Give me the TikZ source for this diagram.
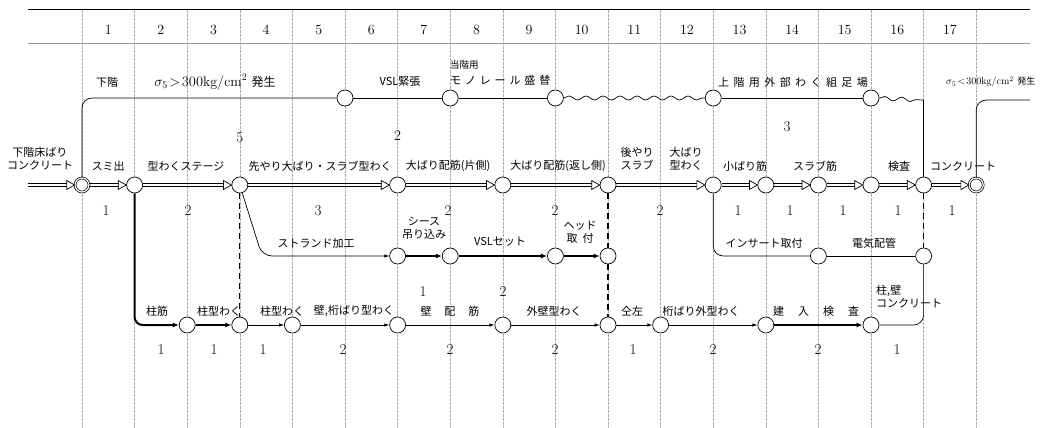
\documentclass[tikz,border=0pt]{standalone}
\usepackage{fontspec}
\newfontfamily\jp{Noto Sans CJK JP}
\usetikzlibrary{arrows.meta,decorations.pathmorphing,decorations.markings}
\tikzset{
  gridline/.style={gray!65, line width=0.45pt, dash pattern=on 3pt off 1pt},
  ev/.style={circle, draw, fill=white, minimum size=16pt, inner sep=0pt, line width=0.7pt},
  evd/.style={ev, double, double distance=1.2pt, minimum size=14pt},
  mainarr/.style={draw=none, line width=0.6pt,
    postaction={draw=black, line width=0.6pt, transform canvas={yshift=1.3pt}, shorten >=7.5pt},
    postaction={draw=black, line width=0.6pt, transform canvas={yshift=-1.3pt}, shorten >=7.5pt},
    postaction={decorate, decoration={markings, mark=at position 1 with
      {\filldraw[fill=white, draw=black, line width=0.7pt, line join=miter] (0pt,0pt) -- (-8pt,4.5pt) -- (-8pt,-4.5pt) -- cycle;}}}},
  thinline/.style={line width=0.7pt},
  thinarr/.style={line width=0.7pt, -{Latex[length=5pt,width=3.5pt]}},
  thickarr/.style={line width=2pt, -{Latex[length=6pt,width=5pt]}},
  dummy/.style={line width=1.2pt, dash pattern=on 6pt off 4pt},
  wave/.style={decorate, decoration={snake, segment length=17pt, amplitude=2pt}, line width=0.7pt},
  lab/.style={font=\jp\fontsize{11}{13}\selectfont, inner sep=0pt, align=center},
  num/.style={font=\fontsize{15}{15}\selectfont, inner sep=0pt},
  hnum/.style={font=\fontsize{14}{14}\selectfont, inner sep=0pt}
}
\begin{document}
\begin{tikzpicture}[x=1pt,y=-1pt]
\useasboundingbox (0,0) rectangle (1062,428);
% grid
\draw[line width=1pt] (28,10) -- (1030,10);
\draw[line width=0.5pt, gray!80] (28,43) -- (1030,43);
\foreach \k in {0,...,17} \draw[gridline] ({82+52.6*\k},10) -- ({82+52.6*\k},428);
\foreach \k in {1,...,17} \node[hnum] (h\k) at ({82+52.6*(\k-0.5)},30) {\k};
% top row
\node[ev] (T5) at (345,98) {};
\node[ev] (T7) at (450.2,98) {};
\node[ev] (T9) at (555.4,98) {};
\node[ev] (T12) at (713.2,98) {};
\node[ev] (T15) at (871,98) {};
\coordinate (C16) at (923.6,100);
\coordinate (OUT) at (1030,100);
\coordinate (IN) at (28,185);
% main row
\node[evd] (M0) at (82,185) {};
\node[ev] (M1) at (134.6,185) {};
\node[ev] (M3) at (239.8,185) {};
\node[ev] (M6) at (397.6,185) {};
\node[ev] (M8) at (502.8,185) {};
\node[ev] (M10) at (608,185) {};
\node[ev] (M12) at (713.2,185) {};
\node[ev] (M13) at (765.8,185) {};
\node[ev] (M14) at (818.4,185) {};
\node[ev] (M15) at (871,185) {};
\node[ev] (M16) at (923.6,185) {};
\node[evd] (M17) at (976.2,185) {};
% row 3
\node[ev] (R6) at (397.6,256) {};
\node[ev] (R7) at (450.2,256) {};
\node[ev] (R9) at (555.4,256) {};
\node[ev] (R10) at (608,256) {};
\node[ev] (R14) at (818.4,256) {};
\node[ev] (R16) at (923.6,256) {};
% bottom row
\node[ev] (B2) at (187.2,325) {};
\node[ev] (B3) at (239.8,325) {};
\node[ev] (B4) at (292.4,325) {};
\node[ev] (B6) at (397.6,325) {};
\node[ev] (B8) at (502.8,325) {};
\node[ev] (B10) at (608,325) {};
\node[ev] (B11) at (660.6,325) {};
\node[ev] (B13) at (765.8,325) {};
\node[ev] (B15) at (871,325) {};
% top connectors
\draw[thinline, rounded corners=10pt] (M0) |- (T5);
\draw[thinline] (T5) -- (T7);
\draw[thinline] (T7) -- (T9);
\draw[wave] (T9) -- (T12);
\draw[thinline] (T12) -- (T15);
\draw[wave] (T15) -- (C16);
\draw[thinline] (C16) -- (M16);
\draw[thinline, rounded corners=10pt] (M17) |- (OUT);
% main connectors
\draw[mainarr] (IN) -- (M0);
\draw[mainarr] (M0) -- (M1);
\draw[mainarr] (M1) -- (M3);
\draw[mainarr] (M3) -- (M6);
\draw[mainarr] (M6) -- (M8);
\draw[mainarr] (M8) -- (M10);
\draw[mainarr] (M10) -- (M12);
\draw[mainarr] (M12) -- (M13);
\draw[mainarr] (M13) -- (M14);
\draw[mainarr] (M14) -- (M15);
\draw[mainarr] (M15) -- (M16);
\draw[mainarr] (M16) -- (M17);
% row 3 connectors
\draw[thinarr, rounded corners=10pt] (M3) -- (262,256) -- (R6);
\draw[thickarr] (R6) -- (R7);
\draw[thickarr] (R7) -- (R9);
\draw[thickarr] (R9) -- (R10);
\draw[thinline, rounded corners=10pt] (M12) |- (R14);
\draw[thinline] (R14) -- (R16);
% bottom connectors
\draw[thickarr, rounded corners=8pt] (M1) |- (B2);
\draw[thickarr] (B2) -- (B3);
\draw[thinarr] (B3) -- (B4);
\draw[thinarr] (B4) -- (B6);
\draw[thinarr] (B6) -- (B8);
\draw[thinarr] (B8) -- (B10);
\draw[thinarr] (B10) -- (B11);
\draw[thinarr] (B11) -- (B13);
\draw[thickarr] (B13) -- (B15);
\draw[thinline, rounded corners=10pt] (B15) -| (R16);
% dummies
\draw[dummy] (M3) -- (B3);
\draw[dummy] (M10) -- (R10);
\draw[dummy] (R10) -- (B10);
\draw[dummy] (M16) -- (R16);
% top labels
\node[lab] (t1) at (107,82) {下階};
\node[lab, font=\fontsize{14}{14}\selectfont] (t2) at (215,82) {$\sigma_5\!>\!300\mathrm{kg/cm^2}$ {\jp\fontsize{12}{13}\selectfont 発生}};
\node[lab] (t3) at (400,82) {VSL緊張};
\node[lab, anchor=west, font=\jp\fontsize{9.5}{11}\selectfont] (t4) at (450,65) {当階用};
\node[lab, anchor=west, font=\jp\fontsize{11}{13}\selectfont\addfontfeature{LetterSpace=35}] (t5) at (450,80) {モノレール盛替};
\node[lab, font=\jp\fontsize{11}{13}\selectfont\addfontfeature{LetterSpace=40}] (t6) at (793,82) {上階用外部わく組足場};
\node[lab, anchor=west, font=\fontsize{10}{10}\selectfont] (t7) at (946,82) {$\sigma_5\!<\!300\mathrm{kg/cm^2}$ {\jp\fontsize{9}{10}\selectfont 発生}};
% main labels
\node[lab] (m0) at (40,159) {下階床ばり\\コンクリート};
\node[lab] (m1) at (108,166) {スミ出};
\node[lab] (m2) at (186,166) {型わくステージ};
\node[lab] (m3) at (320,166) {先やり大ばり・スラブ型わく};
\node[lab] (m4) at (448,166) {大ばり配筋(片側)};
\node[lab] (m5) at (558,166) {大ばり配筋(返し側)};
\node[lab] (m6) at (637,159) {後やり\\スラブ};
\node[lab] (m7) at (686,159) {大ばり\\型わく};
\node[lab] (m8) at (745,166) {小ばり筋};
\node[lab] (m9) at (815,166) {スラブ筋};
\node[lab] (m10) at (899,166) {検査};
\node[lab] (m11) at (963,166) {コンクリート};
\node[num] (f1) at (239.8,138) {5};
\node[num] (f2) at (397.6,136) {2};
\node[num] (f3) at (787,127) {3};
\node[num] (d1) at (106,211) {1};
\node[num] (d2) at (188,211) {2};
\node[num] (d3) at (318,211) {3};
\node[num] (d4) at (448,211) {2};
\node[num] (d5) at (555,211) {2};
\node[num] (d6) at (660,211) {2};
\node[num] (d7) at (738,211) {1};
\node[num] (d8) at (790,211) {1};
\node[num] (d9) at (843,211) {1};
\node[num] (d10) at (898,211) {1};
\node[num] (d11) at (952,211) {1};
% row 3 labels
\node[lab] (r1) at (316,243) {ストランド加工};
\node[lab] (r2) at (424,228) {シース\\吊り込み};
\node[lab] (r3) at (500,242) {VSLセット};
\node[lab] (r4) at (580,232) {ヘッド\\取\hspace{5pt}付};
\node[lab] (r5) at (764,243) {インサート取付};
\node[lab] (r6) at (874,243) {電気配管};
% bottom labels
\node[lab] (b1) at (157,311) {柱筋};
\node[lab] (b2) at (219,311) {柱型わく};
\node[lab] (b3) at (282,311) {柱型わく};
\node[lab] (b4) at (354,311) {壁,桁ばり型わく};
\node[lab] (b5) at (450,311) {壁\hspace{13pt}配\hspace{13pt}筋};
\node[lab] (b6) at (554,311) {外壁型わく};
\node[lab] (b7) at (632,311) {仝左};
\node[lab] (b8) at (701,311) {桁ばり外型わく};
\node[lab] (b9) at (816,311) {建\hspace{14pt}入\hspace{14pt}検\hspace{14pt}査};
\node[lab, anchor=west, align=left] (b10) at (876,297) {柱,壁\\コンクリート};
\node[num] (g1) at (423,292) {1};
\node[num] (g2) at (503,292) {2};
\node[num] (e1) at (161,350) {1};
\node[num] (e2) at (214,350) {1};
\node[num] (e3) at (263,350) {1};
\node[num] (e4) at (343,350) {2};
\node[num] (e5) at (450,350) {2};
\node[num] (e6) at (555,350) {2};
\node[num] (e7) at (633,350) {1};
\node[num] (e8) at (713,350) {2};
\node[num] (e9) at (818,350) {2};
\node[num] (e10) at (897,350) {1};
\end{tikzpicture}
\end{document}
